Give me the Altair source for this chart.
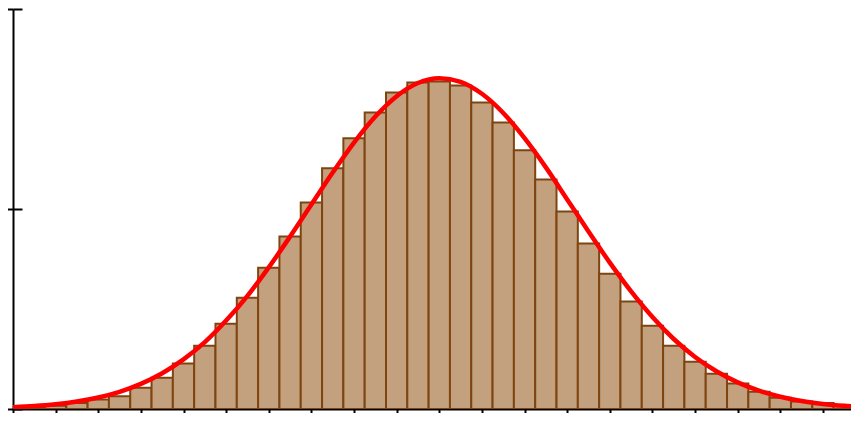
import altair as alt
import pandas as pd

# Histogram bins: centres (x units, axis ticks every 1 unit) and bar heights
bin_centers = [-9.5, -9.0, -8.5, -8.0, -7.5, -7.0, -6.5, -6.0, -5.5, -5.0,
               -4.5, -4.0, -3.5, -3.0, -2.5, -2.0, -1.5, -1.0, -0.5, 0.0,
               0.5, 1.0, 1.5, 2.0, 2.5, 3.0, 3.5, 4.0, 4.5, 5.0,
               5.5, 6.0, 6.5, 7.0, 7.5, 8.0, 8.5, 9.0, 9.5, 10.0]
bin_heights = [0.3, 0.8, 1.5, 2.4, 3.2, 5.3, 7.8, 11.4, 15.8, 21.3,
               27.8, 35.3, 43.1, 51.6, 60.2, 67.7, 74.1, 79.1, 81.6, 81.9,
               80.9, 76.6, 71.6, 64.7, 57.4, 49.4, 41.4, 33.8, 26.9, 20.8,
               15.8, 11.8, 8.8, 6.4, 4.3, 2.8, 1.9, 1.5, 1.0, 0.6]
bin_width = 0.5

# Fitted curve
curve_x = [-10.0, -9.5, -9.0, -8.5, -8.0, -7.5, -7.0, -6.5, -6.0, -5.5,
           -5.0, -4.5, -4.0, -3.5, -3.0, -2.5, -2.0, -1.5, -1.0, -0.5,
           0.0, 0.5, 1.0, 1.5, 2.0, 2.5, 3.0, 3.5, 4.0, 4.5,
           5.0, 5.5, 6.0, 6.5, 7.0, 7.5, 8.0, 8.5, 9.0, 9.5, 9.82]
curve_y = [0.44, 0.73, 1.18, 1.86, 2.86, 4.29, 6.27, 8.93, 12.4, 16.7,
           22.1, 28.3, 35.4, 43.1, 51.1, 59.1, 66.6, 73.1, 78.2, 81.5,
           82.7, 81.8, 78.8, 74.0, 67.7, 60.4, 52.4, 44.4, 36.6, 29.4,
           23.0, 17.5, 13.0, 9.43, 6.65, 4.57, 3.06, 1.99, 1.27, 0.79, 0.57]

x_ticks = list(range(-10, 10))
y_ticks = [0, 50, 100]

bars_df = pd.DataFrame({
    "x0": [c - bin_width / 2 for c in bin_centers],
    "x1": [c + bin_width / 2 for c in bin_centers],
    "h": bin_heights,
})
curve_df = pd.DataFrame({"x": curve_x, "y": curve_y})

xscale = alt.Scale(domain=[-10, 9.658], nice=False, zero=False)
yscale = alt.Scale(domain=[0, 100], nice=False)

x_axis = alt.Axis(values=x_ticks, labels=False, title=None, grid=False,
                  domain=True, domainColor="black", domainWidth=2,
                  ticks=True, tickColor="black", tickWidth=2, tickSize=9)
y_axis_a = alt.Axis(orient="left", values=y_ticks, labels=False, title=None,
                    grid=False, domain=True, domainColor="black", domainWidth=2,
                    ticks=True, tickColor="black", tickWidth=2, tickSize=9)
y_axis_b = alt.Axis(orient="left", values=y_ticks, labels=False, title=None,
                    grid=False, domain=False, ticks=True, tickColor="black",
                    tickWidth=2, tickSize=9, offset=-9)

bars = alt.Chart(bars_df).mark_rect(
    fill="#c3a17f", stroke="#7f4510", strokeWidth=2, clip=True
).encode(
    x=alt.X("x0:Q", scale=xscale, axis=x_axis),
    x2="x1:Q",
    y=alt.Y("h:Q", scale=yscale, axis=y_axis_a),
    y2=alt.datum(0),
)

curve = alt.Chart(curve_df).mark_line(
    color="#ff0000", strokeWidth=4.5, interpolate="monotone", clip=True
).encode(
    x=alt.X("x:Q", scale=xscale, axis=None),
    y=alt.Y("y:Q", scale=yscale, axis=y_axis_b),
)

chart = alt.layer(bars, curve).resolve_axis(
    x="independent", y="independent"
).properties(
    width=838, height=400,
    autosize=alt.AutoSizeParams(type="none"),
    padding={"left": 5, "top": 1, "right": 0, "bottom": 4},
    background="white",
).configure_view(stroke=None)

chart.save("out.html", embed_options={"renderer": "svg", "actions": False})
